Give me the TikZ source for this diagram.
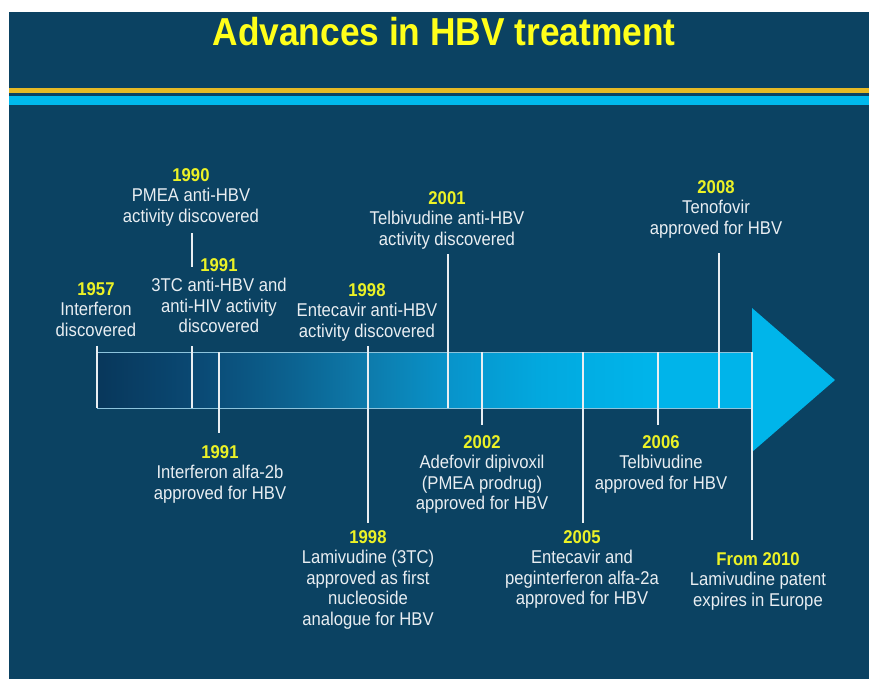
\documentclass[tikz,border=0pt]{standalone}
\usepackage{fontspec}
\setmainfont[FakeStretch=0.9]{Liberation Sans}
\newfontfamily\titlefont[FakeStretch=0.905]{Liberation Sans}

\definecolor{panelblue}{HTML}{0B4262}
\definecolor{goldline}{HTML}{E6BA26}
\definecolor{cyanline}{HTML}{00BAEE}
\definecolor{titleyellow}{HTML}{FFFF1A}
\definecolor{yearyellow}{HTML}{ECF226}
\definecolor{labelwhite}{HTML}{E9EEF2}
\definecolor{headcyan}{HTML}{00B5EA}
\definecolor{bodyline}{HTML}{8CC3DC}
\definecolor{sh0}{HTML}{08375B}
\definecolor{sh1}{HTML}{0A4A75}
\definecolor{sh2}{HTML}{0C6391}
\definecolor{sh3}{HTML}{0D7CAD}
\definecolor{sh4}{HTML}{0894CB}
\definecolor{sh5}{HTML}{02A9DF}
\definecolor{sh6}{HTML}{00B4EA}

\pgfdeclarehorizontalshading{bodyshade}{100bp}{color(0bp)=(sh0); color(25bp)=(sh0);
  color(33bp)=(sh1); color(40bp)=(sh2); color(46bp)=(sh3); color(52bp)=(sh4);
  color(59bp)=(sh5); color(67bp)=(sh6); color(100bp)=(sh6)}

\newcommand{\yearlbl}[1]{{\color{yearyellow}\bfseries #1}}

\begin{document}
\begin{tikzpicture}[x=1pt, y=-1pt,
    evt/.style={align=center, text=labelwhite, inner sep=0pt, anchor=north,
                font=\fontsize{18.5}{20.5}\selectfont},
    tick/.style={draw=labelwhite, line width=2.5pt},
    body/.style={shading=bodyshade, draw=bodyline, line width=1pt,
                 inner sep=0pt, outer sep=0pt, minimum width=655pt, minimum height=56pt}]
    \useasboundingbox (0,0) rectangle (869,679);
    \fill [white] (0,0) rectangle (869,679);
    \fill [panelblue] (9,12) rectangle (869,679);% Draw panel
    \fill [goldline] (9,88) rectangle (869,93);
    \fill [cyanline] (9,96) rectangle (869,105);
    \node [text=titleyellow, inner sep=0pt, font=\titlefont\bfseries\fontsize{39}{42}\selectfont]
      (title) at (444, 32) {Advances in HBV treatment};

    %---------------------------------------------------------------%
    \node [body, anchor=west] (body) at (97, 380) {};
    \coordinate (tip) at (835, 380);
    \fill [headcyan] ([yshift=72pt]body.east) -- (tip) -- ([yshift=-72pt]body.east) -- cycle;

    %---------------------------------------------------------------%
    \node [evt] (e1990)  at (191, 168) {\yearlbl{1990}\\PMEA anti-HBV\\activity discovered};
    \node [evt] (e1991a) at (219, 258) {\yearlbl{1991}\\3TC anti-HBV and\\anti-HIV activity\\discovered};
    \node [evt] (e1957)  at (96, 282)  {\yearlbl{1957}\\Interferon\\discovered};
    \node [evt] (e1998a) at (367, 283) {\yearlbl{1998}\\Entecavir anti-HBV\\activity discovered};
    \node [evt] (e2001)  at (447, 191) {\yearlbl{2001}\\Telbivudine anti-HBV\\activity discovered};
    \node [evt] (e2008)  at (716, 180) {\yearlbl{2008}\\Tenofovir\\approved for HBV};

    \node [evt] (e1991b) at (220, 445) {\yearlbl{1991}\\Interferon alfa-2b\\approved for HBV};
    \node [evt] (e1998b) at (368, 530) {\yearlbl{1998}\\Lamivudine (3TC)\\approved as first\\nucleoside\\analogue for HBV};
    \node [evt] (e2002)  at (482, 435) {\yearlbl{2002}\\Adefovir dipivoxil\\(PMEA prodrug)\\approved for HBV};
    \node [evt] (e2005)  at (582, 530) {\yearlbl{2005}\\Entecavir and\\peginterferon alfa-2a\\approved for HBV};
    \node [evt] (e2006)  at (661, 435) {\yearlbl{2006}\\Telbivudine\\approved for HBV};
    \node [evt] (e2010)  at (758, 552) {\yearlbl{From 2010}\\Lamivudine patent\\expires in Europe};

    %---------------------------------------------------------------%
    \foreach \n/\dx/\s in {e1957/1/9, e2001/1/5, e2008/3/15}{% ticks from above
        \draw [tick] ([xshift=\dx pt, yshift=-\s pt]\n.south) -- ([xshift=\dx pt]\n.south |- body.south);
    }
    \foreach \n/\dx/\s in {e1991b/-1/12, e2002/0/10, e2005/1/7, e2006/-3/10, e2010/-6/12}{% ticks from below
        \draw [tick] ([xshift=\dx pt]\n.north |- body.north) -- ([xshift=\dx pt, yshift=\s pt]\n.north);
    }
    \draw [tick] ([xshift=-27pt, yshift=-13pt]e1991a.south) -- ([xshift=-27pt]e1991a.south |- body.south);
    \draw [tick] ([xshift=1pt, yshift=-5pt]e1998a.south) -- ([yshift=7pt]e1998b.north);
    \draw [tick] ([xshift=1pt, yshift=-7pt]e1990.south) -- ([xshift=1pt, yshift=-9pt]e1990.south |- e1991a.north);
    %---------------------------------------------------------------%
\end{tikzpicture}
\end{document}
